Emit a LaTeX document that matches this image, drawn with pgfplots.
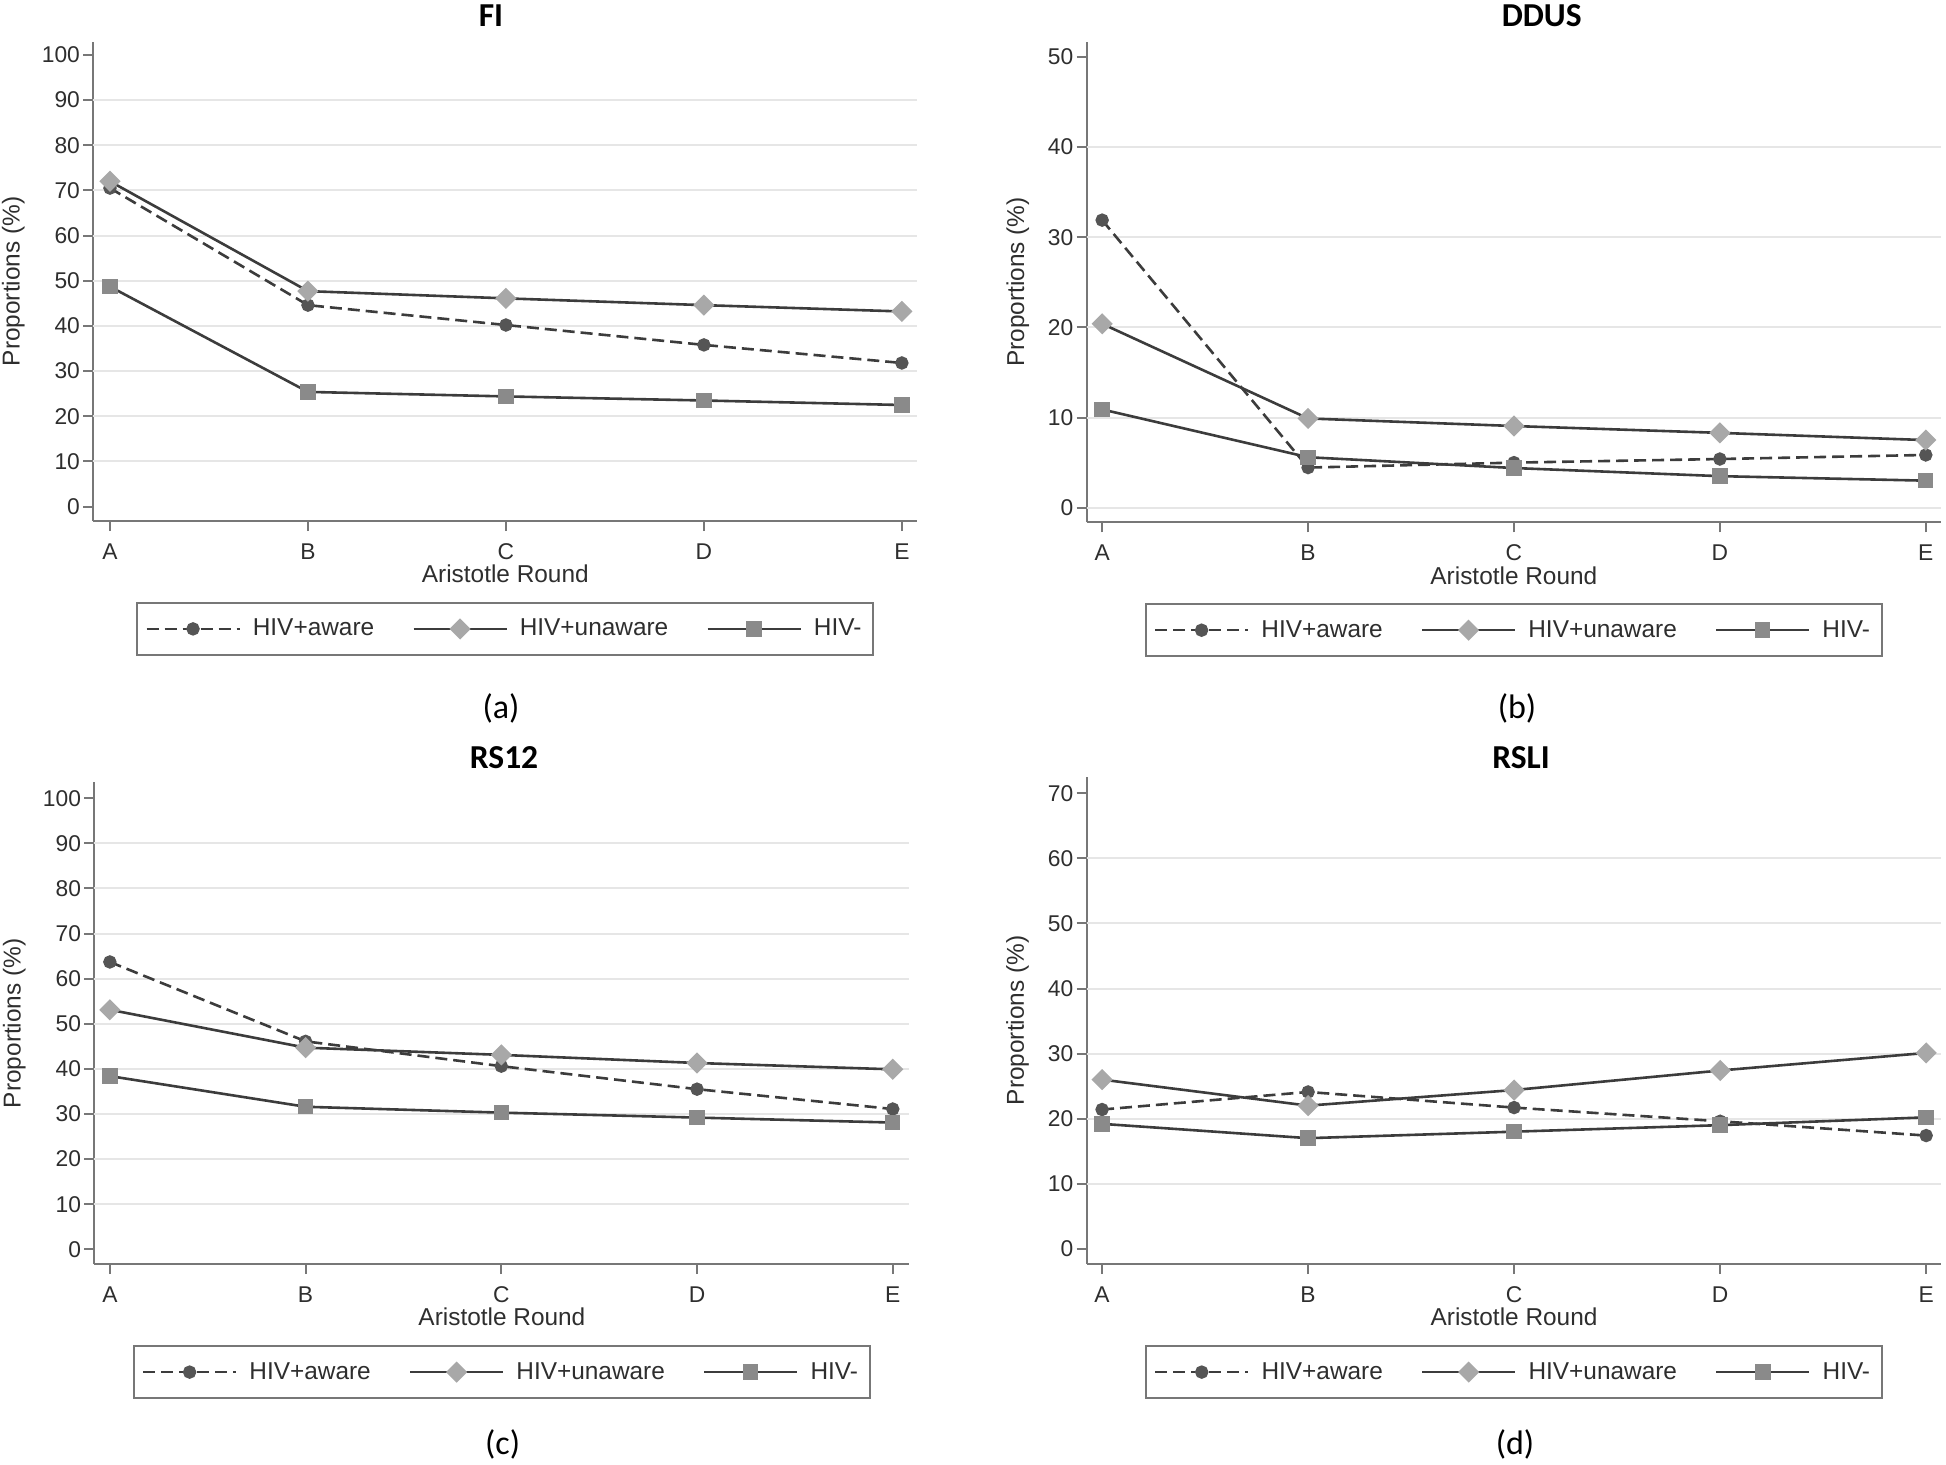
\documentclass[border=0pt]{standalone}
\usepackage{pgfplots}
\usepackage{pgfplotstable}
\pgfplotsset{compat=1.18}
\usepackage{fontspec}
\setmainfont{Liberation Sans}
\newfontfamily\calibri{Carlito}

\definecolor{lineclr}{HTML}{3C3C3C}
\definecolor{awareclr}{HTML}{555555}
\definecolor{unawareclr}{HTML}{A8A8A8}
\definecolor{negclr}{HTML}{8A8A8A}
\definecolor{axisclr}{HTML}{777777}
\definecolor{gridclr}{HTML}{E6E6E6}
\definecolor{txtclr}{HTML}{2E2E2E}

\newcommand{\labfont}{\fontsize{12.2}{14}\selectfont}

% columns: round (A=0 ... E=4), HIV+aware, HIV+unaware, HIV-
\pgfplotstableread{
x aware unaware neg
0 70.5 72.0 48.7
1 44.6 47.7 25.4
2 40.2 46.1 24.4
3 35.8 44.6 23.5
4 31.8 43.2 22.5
}\FI
\pgfplotstableread{
x aware unaware neg
0 31.9 20.4 10.9
1 4.45 9.9  5.6
2 5.0  9.06 4.4
3 5.4  8.3  3.5
4 5.85 7.5  3.0
}\DDUS
\pgfplotstableread{
x aware unaware neg
0 63.7 53.1 38.4
1 46.1 44.7 31.6
2 40.6 43.1 30.3
3 35.5 41.3 29.2
4 31.1 39.9 28.1
}\RSTWELVE
\pgfplotstableread{
x aware unaware neg
0 21.4 26.0 19.2
1 24.1 22.0 17.0
2 21.7 24.4 18.0
3 19.6 27.4 19.0
4 17.4 30.1 20.2
}\RSLI

\pgfplotsset{
  panel/.style={
    scale only axis,
    axis x line*=bottom, axis y line*=left,
    axis line style={axisclr, line width=1pt},
    every tick/.style={axisclr, line width=1pt},
    tick align=outside, major tick length=5pt,
    xtick={0,1,2,3,4}, xticklabels={A,B,C,D,E},
    /pgf/number format/assume math mode=true,
    tick label style={font=\fontsize{11.4}{13}\selectfont, text=txtclr, inner sep=0pt},
    xticklabel style={anchor=north},
    yticklabel style={anchor=east},
    xticklabel shift=6pt, yticklabel shift=1.5pt,
    xlabel={Aristotle Round}, ylabel={Proportions (\%)},
    every axis x label/.style={at={([yshift=-26.5pt]axis description cs:0.5,0)},
      anchor=center, font=\labfont, text=txtclr},
    every axis y label/.style={rotate=90, anchor=center, font=\labfont, text=txtclr},
    extra y tick style={grid=major, major grid style={gridclr, line width=1pt}, major tick length=0pt},
    extra y tick labels={},
    legend columns=3,
    legend cell align=left,
    legend image code/.code={\draw[mark repeat=2,mark phase=2,##1] plot coordinates {(0pt,0pt)(23.25pt,0pt)(46.5pt,0pt)};},
    legend style={at={(0.5,0)}, anchor=north, yshift=-40.5pt,
      draw=axisclr, line width=1pt, fill=white,
      font=\labfont, text=txtclr,
      inner xsep=4pt, inner ysep=6pt,
      /tikz/every odd column/.append style={column sep=4pt},
      /tikz/every even column/.append style={column sep=17pt}},
  },
  aware/.style={lineclr, line width=1.3pt, dash pattern=on 6pt off 3pt,
    mark=*, mark size=2.7pt, mark options={solid, fill=awareclr, draw=awareclr}},
  unaware/.style={lineclr, solid, line width=1.3pt,
    mark=square*, mark size=3.1pt, mark options={rotate=45, fill=unawareclr, draw=unawareclr}},
  neg/.style={lineclr, solid, line width=1.3pt,
    mark=square*, mark size=3.2pt, mark options={fill=negclr, draw=negclr}},
}

\begin{document}
\begin{tikzpicture}
\path[use as bounding box] (0,0) rectangle (973pt,732pt);

% (a) FI
\begin{axis}[panel, at={(46.65pt,471.5pt)}, anchor=south west,
  width=412pt, height=239.65pt,
  xmin=-0.0843, xmax=4.078, ymin=-3.17, ymax=102.9,
  ytick={0,10,...,100}, extra y ticks={10,20,...,90},
  ylabel style={at={([xshift=-40pt]axis description cs:0,0.5)}}]
\addplot[aware] table[x=x, y=aware] {\FI};
\addplot[unaware] table[x=x, y=unaware] {\FI};
\addplot[neg] table[x=x, y=neg] {\FI};
\legend{HIV+aware, HIV+unaware, HIV-}
\end{axis}

% (b) DDUS
\begin{axis}[panel, at={(543.35pt,470.85pt)}, anchor=south west,
  width=427.15pt, height=240.15pt,
  xmin=-0.075, xmax=4.074, ymin=-1.62, ymax=51.66,
  ytick={0,10,...,50}, extra y ticks={0,10,...,40},
  ylabel style={at={([xshift=-34.5pt]axis description cs:0,0.5)}}]
\addplot[aware] table[x=x, y=aware] {\DDUS};
\addplot[unaware] table[x=x, y=unaware] {\DDUS};
\addplot[neg] table[x=x, y=neg] {\DDUS};
\legend{HIV+aware, HIV+unaware, HIV-}
\end{axis}

% (c) RS12
\begin{axis}[panel, at={(47.2pt,99.9pt)}, anchor=south west,
  width=407.5pt, height=240.9pt,
  xmin=-0.079, xmax=4.085, ymin=-3.3, ymax=103.5,
  ytick={0,10,...,100}, extra y ticks={10,20,...,90},
  ylabel style={at={([xshift=-40pt]axis description cs:0,0.5)}}]
\addplot[aware] table[x=x, y=aware] {\RSTWELVE};
\addplot[unaware] table[x=x, y=unaware] {\RSTWELVE};
\addplot[neg] table[x=x, y=neg] {\RSTWELVE};
\legend{HIV+aware, HIV+unaware, HIV-}
\end{axis}

% (d) RSLI
\begin{axis}[panel, at={(543.3pt,99.9pt)}, anchor=south west,
  width=427.4pt, height=243.75pt,
  xmin=-0.075, xmax=4.074, ymin=-2.37, ymax=72.55,
  ytick={0,10,...,70}, extra y ticks={10,20,...,60},
  ylabel style={at={([xshift=-34.5pt]axis description cs:0,0.5)}}]
\addplot[aware] table[x=x, y=aware] {\RSLI};
\addplot[unaware] table[x=x, y=unaware] {\RSLI};
\addplot[neg] table[x=x, y=neg] {\RSLI};
\legend{HIV+aware, HIV+unaware, HIV-}
\end{axis}

% panel titles and captions
\begin{scope}[every node/.style={font=\calibri\bfseries\fontsize{16.75}{20}\selectfont, anchor=base}]
\node at (245.5pt,718.5pt) {FI};
\node at (770.85pt,718.5pt) {DDUS};
\node at (252pt,348pt) {RS12};
\node at (760.5pt,348pt) {RSLI};
\end{scope}
\begin{scope}[every node/.style={font=\calibri\fontsize{17}{20}\selectfont, anchor=base}]
\node at (250.5pt,372.85pt) {(a)};
\node at (758.5pt,372.85pt) {(b)};
\node at (251.3pt,5pt) {(c)};
\node at (757.5pt,5pt) {(d)};
\end{scope}
\end{tikzpicture}
\end{document}
